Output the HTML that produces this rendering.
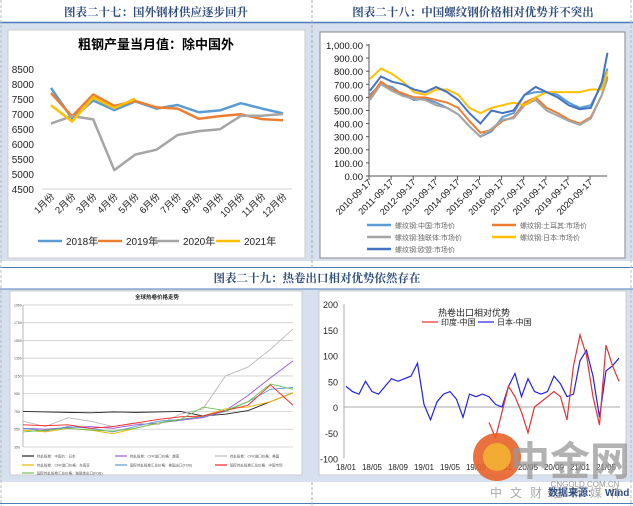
<!DOCTYPE html>
<html><head><meta charset="utf-8"><style>
html,body{margin:0;padding:0;background:#fff;}
svg{display:block;font-family:"Liberation Sans","Noto Sans CJK SC",sans-serif;}
</style></head><body>
<svg id="s" width="633" height="506" viewBox="0 0 633 506" xmlns="http://www.w3.org/2000/svg">
<rect x="0" y="0" width="633" height="506" fill="#fff"/>
<!-- backgrounds -->
<rect x="0" y="23" width="633" height="238" fill="#d6e0ee"/>
<rect x="0" y="289" width="633" height="193" fill="#d6e0ee"/>
<line x1="0" y1="22.5" x2="633" y2="22.5" stroke="#4f7cb8" stroke-width="1.5"/>
<line x1="0" y1="267.5" x2="633" y2="267.5" stroke="#4f7cb8" stroke-width="1"/>
<line x1="0" y1="289" x2="633" y2="289" stroke="#4f7cb8" stroke-width="1"/>
<line x1="0" y1="503.5" x2="633" y2="503.5" stroke="#4f7cb8" stroke-width="1"/>
<line x1="312" y1="0" x2="312" y2="268" stroke="#aaa" stroke-dasharray="3,2"/>
<line x1="312" y1="482" x2="312" y2="506" stroke="#aaa" stroke-dasharray="3,2"/>
<line x1="1" y1="0" x2="1" y2="506" stroke="#bbb" stroke-dasharray="3,2"/>
<line x1="631" y1="0" x2="631" y2="506" stroke="#bbb" stroke-dasharray="3,2"/>
<g font-family="'Liberation Serif','Noto Serif CJK SC',serif" font-weight="bold" fill="#2f4d7e" font-size="11.5" text-anchor="middle">
<text x="156" y="16">图表二十七：国外钢材供应逐步回升</text>
<text x="473" y="16">图表二十八：中国螺纹钢价格相对优势并不突出</text>
<text x="317" y="282">图表二十九：热卷出口相对优势依然存在</text>
</g>
<!-- panels -->
<rect x="8" y="30" width="297" height="228" fill="#fff" stroke="#ccc"/>
<rect x="320" y="32" width="305" height="226" fill="#fff" stroke="#888"/>
<rect x="10" y="291" width="292" height="184" fill="#fff" stroke="#ccc"/>
<rect x="319" y="291" width="307" height="184" fill="#fff" stroke="#ccc"/>
<text x="156" y="49" text-anchor="middle" font-size="13" font-weight="bold" fill="#000">粗钢产量当月值：除中国外</text>
<g id="c1"></g><g id="c2"></g><g id="c3"></g><g id="c4"></g>
<!-- watermark -->
<g>
<circle cx="497" cy="457" r="24" fill="#e8632a" opacity="0.9"/>
<circle cx="497" cy="457" r="14" fill="#f3b233" opacity="0.9"/>
<text x="570" y="475" text-anchor="middle" font-size="40" font-weight="bold" fill="#999" opacity="0.75" font-family="'Liberation Sans','Noto Sans CJK SC',sans-serif">中金网</text>
<text x="585" y="487" text-anchor="middle" font-size="8" fill="#999">CNGOLD.COM.CN</text>
<text x="560" y="497" text-anchor="middle" font-size="12" fill="#aaa" letter-spacing="8">中文财经新媒体</text>
</g>
<text x="548" y="496" font-size="10" font-weight="bold" fill="#2f4d7e">数据来源:</text>
<text x="605" y="496" font-size="10" font-weight="bold" fill="#2f4d7e">Wind</text>
</svg>
<script>
const NS="http://www.w3.org/2000/svg";
function mk(p,t,a){const e=document.createElementNS(NS,t);for(const k in a)e.setAttribute(k,a[k]);p.appendChild(e);return e;}
// ---------- chart 27 ----------
const months=["1月份","2月份","3月份","4月份","5月份","6月份","7月份","8月份","9月份","10月份","11月份","12月份"];
const yTicks1=[4500,5000,5500,6000,6500,7000,7500,8000,8500];
const s2018=[7870,6850,7450,7130,7420,7180,7300,7060,7120,7360,7180,7020];
const s2019=[7700,6920,7650,7270,7430,7220,7180,6840,6930,6990,6830,6790];
const s2020=[6680,6930,6820,5130,5650,5810,6300,6430,6490,6940,6940,7000];
const s2021=[7290,6750,7550,7200,7510];
const names1=["2018年","2019年","2020年","2021年"];
// ---------- chart 28 ----------
const t2=[2010.75,2011.25,2011.75,2012.25,2012.75,2013.25,2013.75,2014.25,2014.75,2015.25,2015.75,2016.25,2016.75,2017.25,2017.75,2018.25,2018.75,2019.25,2019.75,2020.25,2020.75,2021.25,2021.5];
const cn=[620,700,680,620,580,590,560,520,470,380,300,340,450,480,620,640,640,620,560,520,540,700,820];
const tr=[600,720,660,630,600,600,580,560,520,420,330,350,420,450,560,600,520,480,430,400,450,620,760];
const cis=[580,700,650,610,590,580,540,520,470,380,300,360,430,440,540,580,500,460,420,390,440,620,740];
const jp=[740,820,780,720,640,620,660,660,620,520,480,520,540,560,540,600,640,640,640,640,660,660,800];
const eu=[650,760,720,700,660,640,680,640,580,480,400,500,480,500,620,680,640,600,540,510,520,720,940];
const yTicks2=[0,100,200,300,400,500,600,700,800,900,1000];
const xYears2=[2010,2011,2012,2013,2014,2015,2016,2017,2018,2019,2020];
const names2=["螺纹钢:中国:市场价","螺纹钢:土耳其:市场价","螺纹钢:独联体:市场价","螺纹钢:日本:市场价","螺纹钢:欧盟:市场价"];
// ---------- chart 29b ----------
const jpcn=[40,30,25,50,30,25,40,55,50,55,60,85,5,-25,10,25,30,15,-20,25,20,25,20,5,0,40,65,20,55,30,25,30,60,45,20,25,90,110,60,-20,70,80,95];
const incn=[-30,-60,-10,40,20,-10,-50,0,10,20,30,20,-25,80,140,100,20,-35,120,80,50];
const incnStart=22;
const yTicks4=[-100,-50,0,50,100,150,200];
const xLabels4=["18/01","18/05","18/09","19/01","19/05","19/09","20/01","20/05","20/09","21/01","21/05"];
// ---------- chart 29a (indexed values) ----------
const t3=[0,1,2,3,4,5,6,7,8,9,10,11,12];
const hcBlack=[750,745,740,735,745,740,745,750,700,720,760,860,960];
const hcPurple=[560,550,570,580,560,600,620,650,680,760,930,1130,1320];
const hcGray=[640,580,680,640,580,620,600,720,780,1150,1250,1450,1680];
const hcYellow=[540,520,560,540,500,560,620,660,700,780,800,860,960];
const hcBlue=[560,530,580,560,520,580,640,660,690,750,860,1000,1020];
const hcRed=[600,590,600,560,580,620,660,690,700,760,820,1050,820];
const hcGreen=[520,540,560,540,530,560,620,660,800,760,860,1060,1000];
const yTicks3=[350,550,750,950,1150,1350,1550,1750,1950];

function draw1(){
 const g=document.getElementById('c1');
 const x=i=>51+i*21.1, y=v=>189-(v-4500)*0.03;
 yTicks1.forEach(v=>{const t=mk(g,'text',{x:34,y:y(v)+4,'text-anchor':'end','font-size':10,fill:'#222'});t.textContent=v;
 
 });
 mk(g,'line',{x1:42,y1:189,x2:292,y2:189,stroke:'#d0d0d0'});
 months.forEach((m,i)=>{const t=mk(g,'text',{x:x(i)+4,y:197,'text-anchor':'end','font-size':9.5,fill:'#222',transform:`rotate(-45 ${x(i)+4} 197)`});t.textContent=m;
 
 });
 const cols=['#5b9bd5','#ed7d31','#a5a5a5','#ffc000'];
 [s2018,s2019,s2020,s2021].forEach((s,k)=>{
  const p=mk(g,'polyline',{points:s.map((v,i)=>x(i)+','+y(v)).join(' '),fill:'none',stroke:cols[k],'stroke-width':2.5,'stroke-linejoin':'round'});
  
  
 });
 const lx=[38,98,155,216];
 names1.forEach((n,k)=>{
  mk(g,'line',{x1:lx[k],y1:241,x2:lx[k]+24,y2:241,stroke:cols[k],'stroke-width':2.5});
  const t=mk(g,'text',{x:lx[k]+28,y:245,'font-size':10,fill:'#222'});t.textContent=n;
  
  
 });
}
function draw2(){
 const g=document.getElementById('c2');
 const x=t=>369+(t-2010.71)*22.1, y=v=>176-v*0.131;
 mk(g,'line',{x1:369,y1:44,x2:369,y2:176,stroke:'#555'});
 mk(g,'line',{x1:369,y1:176,x2:607,y2:176,stroke:'#555'});
 yTicks2.forEach(v=>{mk(g,'line',{x1:366,y1:y(v),x2:369,y2:y(v),stroke:'#555'});
  const t=mk(g,'text',{x:363,y:y(v)+4,'text-anchor':'end','font-size':9.5,fill:'#111'});t.textContent=v===1000?'1,000.00':v.toFixed(2);
  
  });
 xYears2.forEach(yr=>{const xx=x(yr+0.71);mk(g,'line',{x1:xx,y1:176,x2:xx,y2:180,stroke:'#555'});
  const t=mk(g,'text',{x:xx+3,y:183,'text-anchor':'end','font-size':9,fill:'#111',transform:`rotate(-45 ${xx+3} 183)`});t.textContent=yr+'-09-17';
  
  });
 const cols=['#5b9bd5','#ed7d31','#a5a5a5','#ffc000','#4472c4'];
 [cn,tr,cis,jp,eu].forEach((s,k)=>{
  const p=mk(g,'polyline',{points:s.map((v,i)=>x(t2[i])+','+y(v)).join(' '),fill:'none',stroke:cols[k],'stroke-width':2});
  
  
 });
 const pos=[[367,225],[492,225],[367,237],[492,237],[367,249]];
 names2.forEach((n,k)=>{const [lx,ly]=pos[k];
  mk(g,'line',{x1:lx,y1:ly,x2:lx+24,y2:ly,stroke:cols[k],'stroke-width':2.5});
  const t=mk(g,'text',{x:lx+28,y:ly+3,'font-size':7,fill:'#666'});t.textContent=n;
  
  });
}
function draw3(){
 const g=document.getElementById('c3');
 const x=i=>23+i*22.5, y=v=>447-(v-350)*0.0888;
 const tt=mk(g,'text',{x:157,y:299,'text-anchor':'middle','font-size':5.5,'font-weight':'bold',fill:'#222'});tt.textContent='全球热卷价格走势';
 
 
 yTicks3.forEach(v=>{mk(g,'line',{x1:23,y1:y(v),x2:293,y2:y(v),stroke:'#ccc','stroke-width':0.8});
  const t=mk(g,'text',{x:14,y:y(v)+1.5,'font-size':3.5,fill:'#555'});t.textContent=v;});
 mk(g,'line',{x1:23,y1:305,x2:23,y2:447,stroke:'#888','stroke-width':0.6});
 const cols=['#222','#9b59d6','#b8b8b8','#f0b400','#5b9bd5','#ff2020','#70c050'];
 const labs=['热轧板卷：中国价：日本','热轧板卷：CFR进口价格：越南','热轧板卷：CFR进口价格：美国','热轧板卷：CFR进口价格：东南亚','国际热轧板卷汇总价格：美国出口(FOB)','国际热轧板卷汇总价格：中国市场','国际热轧板卷汇总价格：独联体出口(FOB)'];
 [hcBlack,hcPurple,hcGray,hcYellow,hcBlue,hcRed,hcGreen].forEach((s,k)=>{
  const p=mk(g,'polyline',{points:s.map((v,i)=>x(t3[i])+','+y(v)).join(' '),fill:'none',stroke:cols[k],'stroke-width':0.9});
  
  
 });
 const pos=[[22,456],[115,456],[215,456],[22,465],[115,465],[215,465],[22,473]];
 labs.forEach((n,k)=>{const [lx,ly]=pos[k];mk(g,'line',{x1:lx,y1:ly,x2:lx+12,y2:ly,stroke:cols[k],'stroke-width':1.2});
  const t=mk(g,'text',{x:lx+15,y:ly+1.5,'font-size':3.5,fill:'#555'});t.textContent=n;});
}
function draw4(){
 const g=document.getElementById('c4');
 const x=i=>346+i*6.5, y=v=>407-v*0.515;
 mk(g,'line',{x1:344,y1:y(200),x2:344,y2:y(-100),stroke:'#aaa'});
 mk(g,'line',{x1:344,y1:y(0),x2:620,y2:y(0),stroke:'#aaa'});
 yTicks4.forEach(v=>{const t=mk(g,'text',{x:338,y:y(v)+4,'text-anchor':'end','font-size':9,fill:'#222'});t.textContent=v;
  
  });
 xLabels4.forEach((l,i)=>{const t=mk(g,'text',{x:x(i*4),y:470,'text-anchor':'middle','font-size':8,fill:'#222'});t.textContent=l;
  
  });
 const pb=mk(g,'polyline',{points:jpcn.map((v,i)=>x(i)+','+y(v)).join(' '),fill:'none',stroke:'#2020ee','stroke-width':1.2});
 
 
 const pr=mk(g,'polyline',{points:incn.map((v,i)=>x(i+incnStart)+','+y(v)).join(' '),fill:'none',stroke:'#e83030','stroke-width':1.2});
 
 
 const tt=mk(g,'text',{x:474,y:316,'text-anchor':'middle','font-size':9,fill:'#222'});tt.textContent='热卷出口相对优势';
 
 
 mk(g,'line',{x1:422,y1:322,x2:438,y2:322,stroke:'#e83030','stroke-width':1.2});
 const a=mk(g,'text',{x:441,y:325,'font-size':8,fill:'#222'});a.textContent='印度-中国';
 
 
 mk(g,'line',{x1:478,y1:322,x2:494,y2:322,stroke:'#2020ee','stroke-width':1.2});
 const b=mk(g,'text',{x:497,y:325,'font-size':8,fill:'#222'});b.textContent='日本-中国';
 
 
}
draw1();draw2();draw3();draw4();
</script>
</body></html>
